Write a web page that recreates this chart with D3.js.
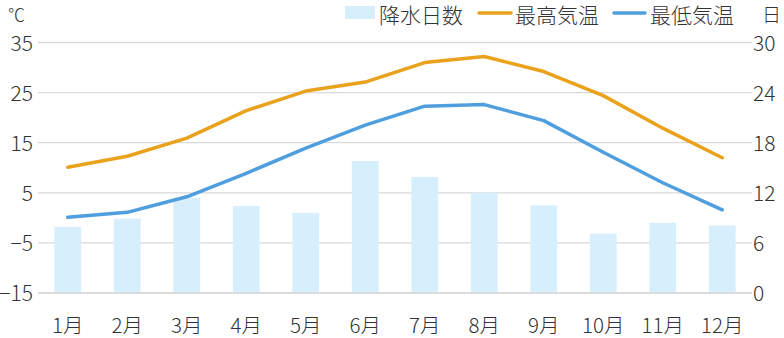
<!DOCTYPE html>
<html><head><meta charset="utf-8">
<script src="https://cdn.jsdelivr.net/npm/d3@7"></script>
<style>
html,body{margin:0;padding:0;background:#fff;}
svg text{font-family:"Noto Sans CJK JP","Noto Sans",sans-serif;font-weight:300;fill:#333;}
</style></head>
<body><svg id="c" width="784" height="338"></svg>
<script>
const months = ["1月","2月","3月","4月","5月","6月","7月","8月","9月","10月","11月","12月"];
const rainDays = [7.9, 8.9, 11.4, 10.4, 9.6, 15.8, 13.9, 12.0, 10.5, 7.1, 8.4, 8.1];
const maxTemp = [10.1, 12.3, 15.9, 21.4, 25.3, 27.1, 31.0, 32.2, 29.2, 24.4, 17.9, 12.0];
const minTemp = [0.1, 1.1, 4.2, 8.9, 13.9, 18.5, 22.3, 22.6, 19.4, 13.1, 7.0, 1.6];
const leftTicks = [-15, -5, 5, 15, 25, 35];
const rightTicks = [0, 6, 12, 18, 24, 30];
const seriesNames = ["降水日数", "最高気温", "最低気温"];
const colors = {bar: "#d7effc", max: "#eaa21c", min: "#4f9fdf"};

const svg = d3.select("#c");
const L = 38, R = 752, T = 42.5, B = 293;
const x = d3.scaleBand().domain(months).range([L, R]).paddingInner(0.55).paddingOuter(0.275);
const yT = d3.scaleLinear().domain([-15, 35]).range([B, T]);
const yD = d3.scaleLinear().domain([0, 30]).range([B, T]);

svg.append("g").selectAll("line").data(leftTicks).join("line")
  .attr("x1", L).attr("x2", R).attr("y1", d => yT(d)).attr("y2", d => yT(d))
  .attr("stroke", "#d9d9d9").attr("stroke-width", 1.3);

svg.append("g").selectAll("rect").data(rainDays).join("rect")
  .attr("x", (d, i) => x(months[i])).attr("width", x.bandwidth())
  .attr("y", d => yD(d)).attr("height", d => B - yD(d))
  .attr("fill", colors.bar);

svg.append("line").attr("x1", L).attr("x2", R).attr("y1", yT(-15)).attr("y2", yT(-15))
  .attr("stroke", "#d9d9d9").attr("stroke-width", 1.3);

const line = arr => d3.line().x((d, i) => x(months[i]) + x.bandwidth() / 2).y(d => yT(d))(arr);
svg.append("path").attr("d", line(maxTemp)).attr("fill", "none")
  .attr("stroke", colors.max).attr("stroke-width", 3.5).attr("stroke-linecap", "round").attr("stroke-linejoin", "round");
svg.append("path").attr("d", line(minTemp)).attr("fill", "none")
  .attr("stroke", colors.min).attr("stroke-width", 3.5).attr("stroke-linecap", "round").attr("stroke-linejoin", "round");

const leftAxis = d3.axisLeft(yT).tickValues(leftTicks).tickSize(0).tickPadding(5);
const gl = svg.append("g").attr("transform", `translate(${L},0)`).call(leftAxis);
gl.select(".domain").remove();
gl.selectAll("text").attr("font-size", 21).attr("font-family", null).attr("fill", null).attr("dy", "0.36em");

const rightAxis = d3.axisRight(yD).tickValues(rightTicks).tickSize(0).tickPadding(1);
const gr = svg.append("g").attr("transform", `translate(${R},0)`).call(rightAxis);
gr.select(".domain").remove();
gr.selectAll("text").attr("font-size", 21).attr("font-family", null).attr("fill", null).attr("dy", "0.36em");

const bottomAxis = d3.axisBottom(x).tickSize(0).tickPadding(0);
const gb = svg.append("g").attr("transform", `translate(0,${B})`).call(bottomAxis);
gb.select(".domain").remove();
gb.selectAll("text").attr("font-size", 20.5).attr("font-family", null).attr("fill", null).attr("dy", null).attr("y", 40);

svg.append("text").attr("x", 8).attr("y", 21).attr("font-size", 17).text("℃");
svg.append("text").attr("x", 762).attr("y", 22).attr("font-size", 19).text("日");

const lg = svg.append("g");
lg.append("rect").attr("x", 345).attr("y", 6).attr("width", 30).attr("height", 13).attr("fill", colors.bar);
lg.append("text").attr("x", 379).attr("y", 23).attr("font-size", 21).text(seriesNames[0]);
lg.append("line").attr("x1", 479).attr("x2", 511).attr("y1", 13).attr("y2", 13).attr("stroke", colors.max).attr("stroke-width", 3.5).attr("stroke-linecap", "round");
lg.append("text").attr("x", 515).attr("y", 23).attr("font-size", 21).text(seriesNames[1]);
lg.append("line").attr("x1", 614).attr("x2", 645).attr("y1", 13).attr("y2", 13).attr("stroke", colors.min).attr("stroke-width", 3.5).attr("stroke-linecap", "round");
lg.append("text").attr("x", 650).attr("y", 23).attr("font-size", 21).text(seriesNames[2]);
</script></body></html>
